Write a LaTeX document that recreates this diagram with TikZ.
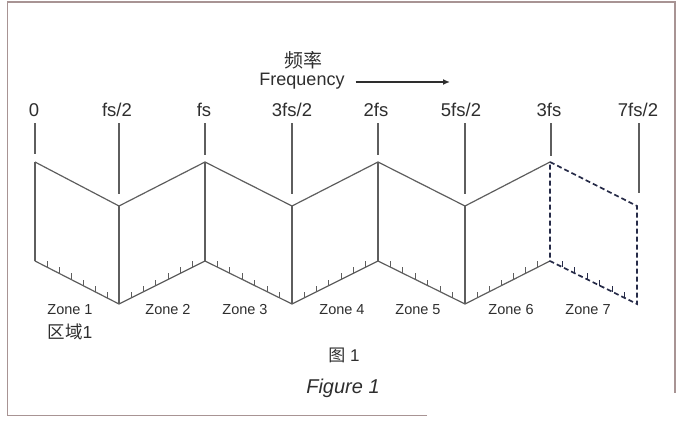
\documentclass[tikz,border=0pt]{standalone}
\usepackage{fontspec}
\setmainfont{Liberation Sans}
\newfontfamily\cjk{Noto Sans CJK SC}
\usetikzlibrary{calc,arrows.meta}
\definecolor{linegray}{HTML}{5E5E5E}
\definecolor{dashcol}{HTML}{262B48}
\definecolor{bordercol}{HTML}{A89494}
\definecolor{txt}{HTML}{2E2E2E}
\begin{document}
\begin{tikzpicture}[x=1pt,y=-1pt,
  edge/.style={draw=linegray, line width=1.2pt},
  dashedge/.style={draw=dashcol, line width=1.7pt, dash pattern=on 5pt off 3pt},
  smalltick/.style={draw=linegray, line width=0.9pt},
  dashtick/.style={draw=dashcol, line width=1.1pt},
  freqlbl/.style={text=txt, font=\fontsize{18.5}{20}\selectfont, inner sep=0pt},
  zonelbl/.style={text=txt, font=\fontsize{14.5}{16}\selectfont, inner sep=0pt},
  caplbl/.style={text=txt, inner sep=0pt},
  marker/.style={draw=linegray, line width=1.1pt}]
\useasboundingbox (0,0) rectangle (684,425);

% frame
\coordinate (fa) at (427,415.5);
\coordinate (fb) at (7.5,415.5);
\coordinate (fc) at (7.5,2);
\coordinate (fd) at (675,2);
\coordinate (fe) at (675,393);
\draw[bordercol, line width=1.4pt] (fa) -- (fb) -- (fc) -- (fd) -- (fe);

% corners of the folded sheet
\coordinate (t0) at (35,162);  \coordinate (b0) at (35,261);
\coordinate (t1) at (119,206); \coordinate (b1) at (119,304);
\coordinate (t2) at (205,162); \coordinate (b2) at (205,261);
\coordinate (t3) at (292,206); \coordinate (b3) at (292,304);
\coordinate (t4) at (378,162); \coordinate (b4) at (378,261);
\coordinate (t5) at (465,206); \coordinate (b5) at (465,304);
\coordinate (t6) at (550,162); \coordinate (b6) at (550,261);
\coordinate (t7) at (637,206); \coordinate (b7) at (637,304);

% frequency labels and their marker lines
\node[freqlbl] (l0) at (34,110) {0};
\node[freqlbl] (l1) at (117,110) {fs/2};
\node[freqlbl] (l2) at (204,110) {fs};
\node[freqlbl] (l3) at (292,110) {3fs/2};
\node[freqlbl] (l4) at (376,110) {2fs};
\node[freqlbl] (l5) at (461,110) {5fs/2};
\node[freqlbl] (l6) at (549,110) {3fs};
\node[freqlbl] (l7) at (638,110) {7fs/2};

\coordinate (m0a) at (35,123);  \coordinate (m0b) at (35,154);
\coordinate (m1a) at (119,123); \coordinate (m1b) at (119,194);
\coordinate (m2a) at (205,123); \coordinate (m2b) at (205,155);
\coordinate (m3a) at (292,123); \coordinate (m3b) at (292,194);
\coordinate (m4a) at (378,123); \coordinate (m4b) at (378,155);
\coordinate (m5a) at (465,123); \coordinate (m5b) at (465,194);
\coordinate (m6a) at (551,123); \coordinate (m6b) at (551,156);
\coordinate (m7a) at (639,123); \coordinate (m7b) at (639,193);
\foreach \i in {0,...,7} {\draw[marker] (m\i a) -- (m\i b);}

% solid panels
\draw[edge, line join=miter] (t0) -- (t1) -- (t2) -- (t3) -- (t4) -- (t5) -- (t6);
\draw[edge, line join=miter] (b0) -- (b1) -- (b2) -- (b3) -- (b4) -- (b5) -- (b6);
\foreach \i in {0,...,5} {\draw[edge] (t\i) -- (b\i);}

% small ticks along the bottom edges (pointing up)
\foreach \i/\j in {0/1,1/2,2/3,3/4,4/5,5/6} {
  \foreach \k in {1,...,6} {
    \draw[smalltick] ($(b\i)!\k/7!(b\j)$) -- ++(0,-6);
  }
}
\foreach \k in {1,...,6} {
  \draw[dashtick] ($(b6)!\k/7!(b7)$) -- ++(0,-6);
}

% dashed zone 7
\draw[dashedge] (t6) -- (t7) -- (b7) -- (b6) -- cycle;

% zone labels
\node[zonelbl] (z1) at (70,310) {Zone 1};
\node[zonelbl] (z2) at (168,310) {Zone 2};
\node[zonelbl] (z3) at (245,310) {Zone 3};
\node[zonelbl] (z4) at (342,310) {Zone 4};
\node[zonelbl] (z5) at (418,310) {Zone 5};
\node[zonelbl] (z6) at (511,310) {Zone 6};
\node[zonelbl] (z7) at (588,310) {Zone 7};
\node[caplbl, font=\fontsize{17.5}{20}\selectfont] (r1) at (70,332) {{\cjk 区域}1};

% frequency axis title
\node[caplbl, font=\fontsize{19}{21}\selectfont] (pl) at (303,60) {\cjk 频率};
\node[caplbl, font=\fontsize{18}{20}\selectfont] (fq) at (302,81) {Frequency};
\coordinate (ae) at (450,82);
\draw[draw=txt, line width=1.5pt, -{Latex[length=7pt,width=6pt]}] ($(fq.east)+(11,1)$) -- (ae);

% caption
\node[caplbl, font=\fontsize{17}{19}\selectfont] (c1) at (344,355) {{\cjk 图}\ 1};
\node[caplbl, font=\fontsize{20}{22}\selectfont\itshape] (c2) at (343,388) {Figure 1};
\end{tikzpicture}
\end{document}
